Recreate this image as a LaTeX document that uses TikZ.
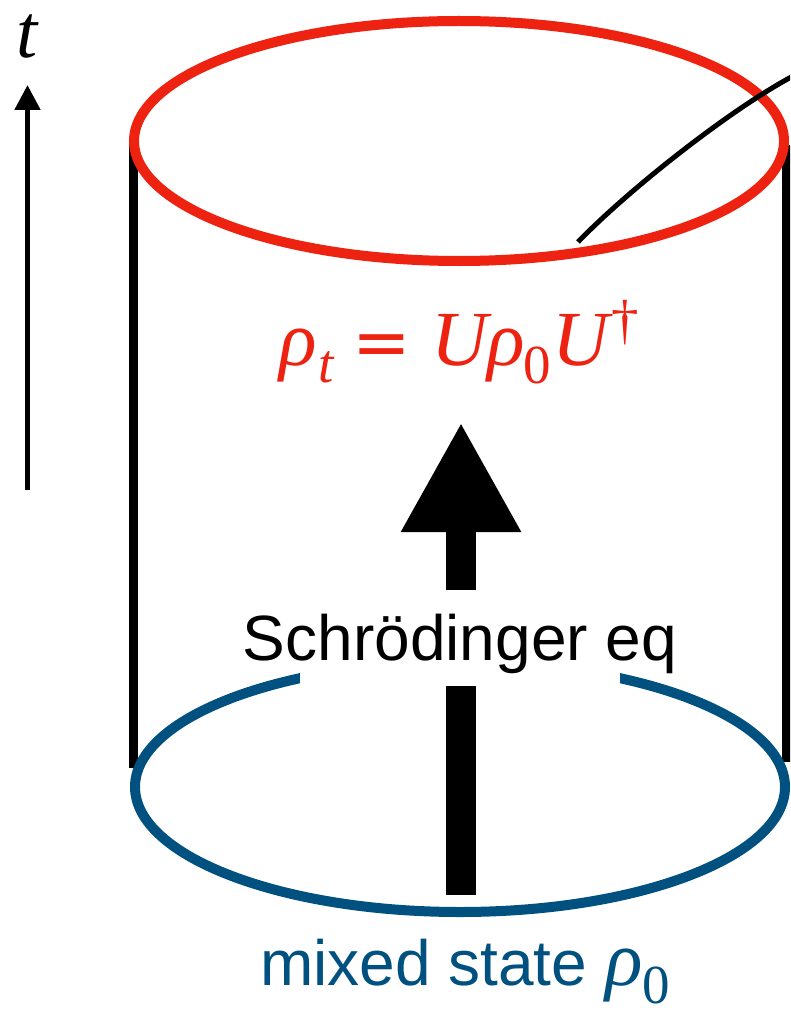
\documentclass[tikz,border=0pt]{standalone}
\usepackage{fontspec}
\setmainfont{Liberation Serif}
\newfontfamily\sansfam{Liberation Sans}
\newfontfamily\eqfam{DejaVu Sans}
\usetikzlibrary{arrows.meta}
\definecolor{myred}{RGB}{238,34,17}
\definecolor{myblue}{RGB}{0,80,128}
\tikzset{
  wall/.style={line width=9pt, black},
  rim/.style={line width=10pt},
  bigarrow/.style={line width=30pt, -{Triangle[width=112pt,length=110pt]}},
  timearrow/.style={line width=5pt, -{Triangle[width=25pt,length=25pt]}},
  fbig/.style={myred, anchor=base west, inner sep=0, font=\fontsize{78}{78}\selectfont\itshape},
  fsub/.style={myred, anchor=base west, inner sep=0, font=\fontsize{55}{55}\selectfont},
}
\begin{document}
\begin{tikzpicture}[x=1pt,y=-1pt]
\clip (0,0) rectangle (790,1019);
\fill[white] (0,0) rectangle (790,1019);
% coordinates
\coordinate (tbot) at (27.5,490);
\coordinate (ttop) at (27.5,85);
\coordinate (lwtop) at (133,145);
\coordinate (lwbot) at (133,768);
\coordinate (rwtop) at (786,145);
\coordinate (rwbot) at (786,762);
\coordinate (abot) at (461,895);
\coordinate (atop) at (461,422);
\coordinate (cs) at (578,242);
\coordinate (ce) at (795,75);
% time arrow
\draw[timearrow] (tbot) -- (ttop);
\node[font=\fontsize{76}{76}\selectfont\itshape, anchor=base, inner sep=0] (tlab) at (27.5,58) {t};
% walls
\draw[wall] (lwtop) -- (lwbot);
\draw[wall] (rwtop) -- (rwbot);
% rims
\draw[rim, myred] (459,141) ellipse [x radius=325pt, y radius=120pt];
\draw[rim, myblue] (460,787) ellipse [x radius=325pt, y radius=125pt];
% big arrow
\draw[bigarrow] (abot) -- (atop);
% label box
\node[fill=white, minimum width=320pt, minimum height=96pt, inner sep=0] (gap) at (460,637.5) {};
\node[font=\sansfam\fontsize{64}{64}\selectfont, anchor=base, inner sep=0] (schr) at (460,660) {Schrödinger eq};
% curve
\draw[line width=5pt] (cs) .. controls (628,190) and (732,108) .. (ce);
% formula
\node[fbig] (rhot) at (279,365) {ρ};
\node[fsub, font=\fontsize{55}{55}\selectfont\itshape] (subt) at (318,382) {t};
\node[myred, anchor=base west, inner sep=0, font=\eqfam\fontsize{70}{70}\selectfont] (eq) at (352,366) {=};
\node[fbig] (u1) at (431,365) {U};
\node[fbig] (rho0) at (487,365) {ρ};
\node[fsub] (sub0) at (523,383) {0};
\node[fbig] (u2) at (552,365) {U};
\node[fsub] (dag) at (611,338) {†};
% bottom label
\node[myblue, font=\fontsize{64}{64}\selectfont, anchor=base west, inner sep=0] (mixed) at (260,985)
  {{\sansfam mixed state }{\fontsize{78}{78}\selectfont\itshape ρ}\raisebox{-18pt}{\fontsize{55}{55}\selectfont 0}};
\end{tikzpicture}
\end{document}
